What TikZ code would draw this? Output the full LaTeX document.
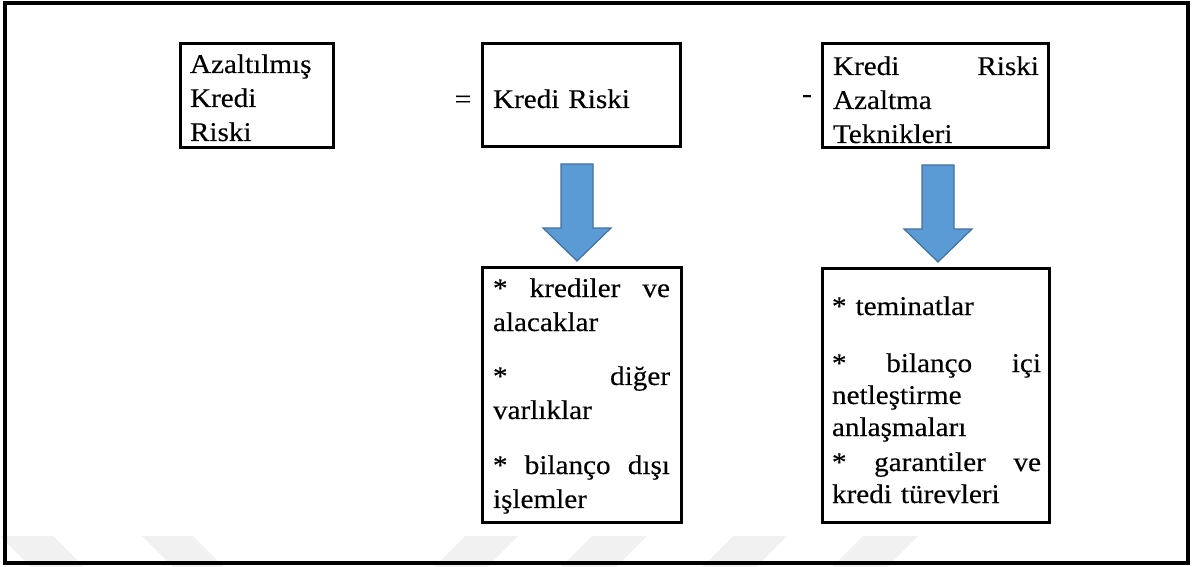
\documentclass[tikz,border=0pt]{standalone}
\usepackage{fontspec}
\setmainfont{Liberation Serif}[FakeStretch=1.08,FakeBold=0.3]
\definecolor{arrowfill}{HTML}{5B9BD5}
\definecolor{arrowedge}{HTML}{41719C}
\definecolor{wmgray}{HTML}{F1F1F1}
\tikzset{
  box/.style={draw=black, line width=3pt, inner sep=0pt, outer sep=0pt},
  txt/.style={inner sep=0pt, outer sep=0pt, anchor=base west, align=left,
              font=\fontsize{27}{34}\selectfont},
  sign/.style={inner sep=0pt, anchor=base, font=\fontsize{27}{34}\selectfont},
  blockarrow/.style={fill=arrowfill, draw=arrowedge, line width=1.2pt, line join=miter},
  wm/.style={fill=wmgray, draw=none},
  downarr/.pic={
    \path[blockarrow] (-16,0) -- (16,0) -- (16,64) -- (34,64) -- (0,97)
      -- (-34,64) -- (-16,64) -- cycle;
  }
}
\begin{document}
\begin{tikzpicture}[x=1pt,y=-1pt]
\useasboundingbox (0,0) rectangle (1195,567);

% faint watermark shapes
\path[wm] (0,536) -- (53,536) -- (84,567) -- (31,567) -- cycle;
\path[wm] (142,536) -- (193,536) -- (224,567) -- (173,567) -- cycle;
\path[wm] (465,536) -- (518,536) -- (487,567) -- (434,567) -- cycle;
\path[wm] (592,536) -- (647,536) -- (616,567) -- (561,567) -- cycle;
\path[wm] (733,536) -- (787,536) -- (756,567) -- (702,567) -- cycle;
\path[wm] (863,536) -- (918,536) -- (887,567) -- (832,567) -- cycle;

% outer frame
\node[box, line width=3.2pt, minimum width=1183pt, minimum height=560pt] (frame) at (596.5,283) {};

% top row boxes
\node[box, minimum width=153pt, minimum height=104pt] (b1) at (256.5,96) {};
\node[box, minimum width=198pt, minimum height=103pt] (b2) at (581,95.5) {};
\node[box, minimum width=226pt, minimum height=104pt] (b3) at (935,96) {};

\node[txt, text width=138pt] (t1) at (190,73) {Azaltılmış\\Kredi\\Riski};
\node[txt, text width=180pt] (t2) at (493,108) {Kredi Riski};
\node[txt, text width=206pt] (t3) at (833,75) {Kredi\hfill Riski\\Azaltma\\Teknikleri};

\node[sign] (eq) at (463,108) {=};
\node[sign] (minus) at (807,102.5) {-};

% block arrows
\pic (a1) at (577,164) {downarr};
\pic (a2) at (938,165) {downarr};

% bottom boxes
\node[box, minimum width=199pt, minimum height=255pt] (b4) at (581.5,394.5) {};
\node[box, minimum width=227pt, minimum height=254pt] (b5) at (935.5,395) {};

\node[txt, text width=177pt] (t4) at (493,297)
  {*\hfill krediler\hfill ve\\alacaklar\\[20pt]*\hfill diğer\\varlıklar\\[21pt]*\hfill bilanço\hfill dışı\\işlemler};
\node[txt, text width=209pt, font=\fontsize{27}{32}\selectfont] (t5) at (832,315)
  {* teminatlar\\[25pt]*\hfill bilanço\hfill içi\\netleştirme\\anlaşmaları\\[3pt]*\hfill garantiler\hfill ve\\kredi türevleri};
\end{tikzpicture}
\end{document}
